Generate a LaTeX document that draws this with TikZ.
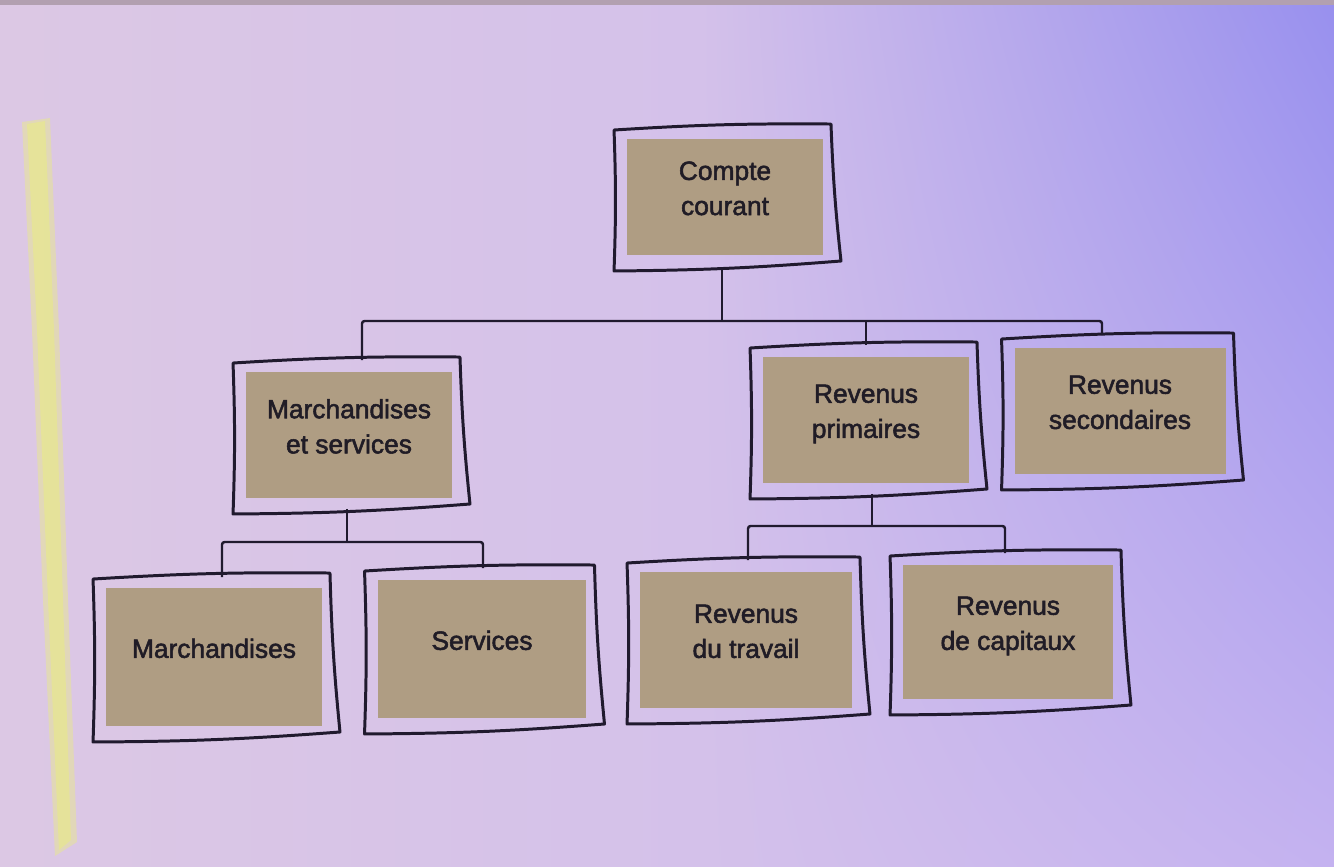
\documentclass[tikz,border=0pt]{standalone}
\usepackage{fontspec}
\setmainfont{Liberation Sans}[FakeBold=2]
\usepackage{tikz}
\usetikzlibrary{positioning,shadings}
\definecolor{bgl}{RGB}{220,200,228}
\definecolor{bgm}{RGB}{212,193,234}
\definecolor{bgur}{RGB}{152,144,238}
\definecolor{bglr}{RGB}{196,178,240}
\definecolor{topedge}{RGB}{178,160,176}
\definecolor{marker}{RGB}{232,232,142}
\definecolor{tanbox}{RGB}{175,157,131}
\definecolor{ink}{RGB}{32,26,46}
\definecolor{txt}{RGB}{32,28,38}

\begin{document}
\begin{tikzpicture}[x=0.02cm, y=-0.02cm]
\tikzset{box/.style={fill=tanbox, text=txt, align=center, outer sep=0.32cm,
    font=\fontsize{15}{20}\selectfont, text depth=0.35cm}}
\tikzset{frameline/.style={ink, line width=1.7pt, line cap=round, line join=round}}
\tikzset{link/.style={ink, line width=1.4pt, rounded corners=1.5pt}}

\useasboundingbox (0,0) rectangle (1334,866);
\shade[left color=bgl, right color=bgm] (0,0) rectangle (701,866);
\shade[upper left=bgm, lower left=bgm, upper right=bgur, lower right=bglr] (700,0) rectangle (1334,866);
\fill[topedge] (0,0) rectangle (1334,5);
% marker stroke
\fill[marker, opacity=0.5] (22,122) -- (50,118) -- (59,330) -- (68,600) -- (77,842) -- (55,856) -- (43,600) -- (32,330) -- cycle;
\fill[marker, opacity=0.7] (27,124) -- (45,121) -- (54,330) -- (63,600) -- (71,840) -- (59,850) -- (48,600) -- (37,330) -- cycle;

\node[box, minimum width=3.92cm, minimum height=2.32cm] (cc) at (725,197) {Compte\\courant};
\node[box, minimum width=4.12cm, minimum height=2.52cm] (ms) at (349,435) {Marchandises\\et services};
\node[box, minimum width=4.12cm, minimum height=2.52cm] (rp) at (866,420) {Revenus\\primaires};
\node[box, minimum width=4.22cm, minimum height=2.52cm] (rs) at (1120,411) {Revenus\\secondaires};
\node[box, minimum width=4.32cm, minimum height=2.76cm] (ma) at (214,657) {Marchandises};
\node[box, minimum width=4.18cm, minimum height=2.76cm] (se) at (482,649) {Services};
\node[box, minimum width=4.24cm, minimum height=2.72cm] (rt) at (746,640) {Revenus\\du travail};
\node[box, minimum width=4.20cm, minimum height=2.68cm] (rc) at (1008,632) {Revenus\\de capitaux};

% hand drawn frames
\foreach \n in {cc,ms,rp,rs,ma,se,rt,rc}
  \draw[frameline] ([shift={(3,7)}]\n.north west) to [bend left=2] ([shift={(-8,1)}]\n.north east)
    to [bend right=2] ([shift={(2,-10)}]\n.south east) to [bend left=2] ([shift={(3,0)}]\n.south west)
    to [bend right=2] ([shift={(3,7)}]\n.north west);

\coordinate (j1) at ([shift={(-3,50)}]cc.south);
\coordinate (j2) at ([shift={(-2,28)}]ms.south);
\coordinate (j3) at ([shift={(6,27)}]rp.south);

\draw[link] ([shift={(-3,-2)}]cc.south) -- (j1);
\draw[link] ([shift={(13,4)}]ms.north) |- (j1) -| ([shift={(-18,3)}]rs.north);
\draw[link] ([shift={(0,4)}]rp.north) -- (rp.north |- j1);

\draw[link] ([shift={(-2,-5)}]ms.south) -- (j2);
\draw[link] ([shift={(8,5)}]ma.north) |- (j2) -| ([shift={(1,4)}]se.north);

\draw[link] ([shift={(6,-5)}]rp.south) -- (j3);
\draw[link] ([shift={(2,4)}]rt.north) |- (j3) -| ([shift={(-3,4)}]rc.north);
%\draw[link] (ms.east) -- (rp.west);
\end{tikzpicture}
\end{document}
